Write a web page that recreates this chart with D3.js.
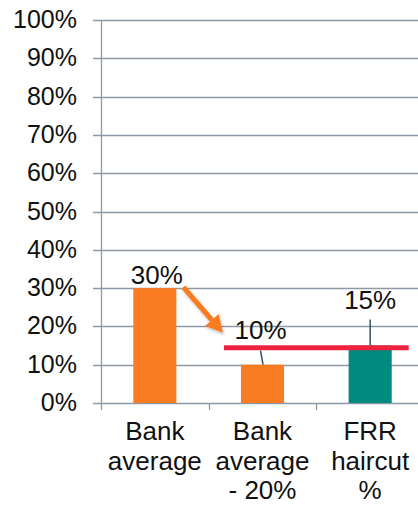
<!DOCTYPE html>
<html>
<head>
<meta charset="utf-8">
<script src="https://cdn.jsdelivr.net/npm/d3@7"></script>
<style>
  body { margin: 0; background: #fff; }
  text { font-family: "Liberation Sans", Arial, sans-serif; fill: #111; }
</style>
</head>
<body>
<div id="chart"></div>
<script>
// data
var categories = [["Bank", "average"], ["Bank", "average", "- 20%"], ["FRR", "haircut", "%"]];
var values = [0.30, 0.10, 0.15];
var barColors = ["#f97b22", "#f97b22", "#008b80"];
var valueLabels = ["30%", "10%", "15%"];
var yTicks = [0, 0.1, 0.2, 0.3, 0.4, 0.5, 0.6, 0.7, 0.8, 0.9, 1.0];
var thresholdValue = 0.144;

var width = 418, height = 506;
var margin = {left: 101, top: 20, right: -6, bottom: 103};

var svg = d3.select("#chart")
  .append("svg")
    .attr("width", width)
    .attr("height", height);

var x = d3.scaleBand()
  .domain(d3.range(categories.length))
  .range([margin.left, width - margin.right])
  .paddingInner(0.6)
  .paddingOuter(0.3);

var y = d3.scaleLinear()
  .domain([0, 1])
  .range([height - margin.bottom, margin.top]);

var gridColor = "#8e99a8";

// gridlines
svg.append("g")
  .selectAll("line")
  .data(yTicks)
  .enter().append("line")
    .attr("x1", margin.left - 8)
    .attr("x2", width - margin.right)
    .attr("y1", function(d) { return Math.round(y(d)) + 0.5; })
    .attr("y2", function(d) { return Math.round(y(d)) + 0.5; })
    .attr("stroke", gridColor)
    .attr("stroke-width", 1.3);

// y tick labels
svg.append("g")
  .selectAll("text")
  .data(yTicks)
  .enter().append("text")
    .attr("x", margin.left - 24)
    .attr("y", function(d) { return y(d) + 8; })
    .attr("text-anchor", "end")
    .style("font-size", "25px")
    .text(function(d) { return Math.round(d * 100) + "%"; });

// y axis line
svg.append("line")
  .attr("x1", margin.left + 0.5).attr("x2", margin.left + 0.5)
  .attr("y1", y(1)).attr("y2", y(0) + 7)
  .attr("stroke", gridColor).attr("stroke-width", 1.3);

// x ticks between categories
svg.append("g")
  .selectAll("line")
  .data([1, 2])
  .enter().append("line")
    .attr("x1", function(d) { return Math.round(x(d) - x.step() * x.paddingInner() / 2) + 0.5; })
    .attr("x2", function(d) { return Math.round(x(d) - x.step() * x.paddingInner() / 2) + 0.5; })
    .attr("y1", y(0))
    .attr("y2", y(0) + 7)
    .attr("stroke", gridColor).attr("stroke-width", 1.3);

// bars
svg.append("g")
  .selectAll("rect")
  .data(values)
  .enter().append("rect")
    .attr("x", function(d, i) { return x(i); })
    .attr("y", function(d) { return y(d); })
    .attr("width", x.bandwidth())
    .attr("height", function(d) { return y(0) - y(d); })
    .attr("fill", function(d, i) { return barColors[i]; });

// threshold line
svg.append("line")
  .attr("x1", x(1) - 17)
  .attr("x2", x(2) + x.bandwidth() + 17)
  .attr("y1", y(thresholdValue))
  .attr("y2", y(thresholdValue))
  .attr("stroke", "#f0233f")
  .attr("stroke-width", 5);

// leader lines
var leaderColor = "#34506e";
svg.append("line")
  .attr("x1", x(1) + x.bandwidth() / 2 - 2).attr("y1", y(values[1]) - 14)
  .attr("x2", x(1) + x.bandwidth() / 2 + 0.5).attr("y2", y(values[1]))
  .attr("stroke", leaderColor).attr("stroke-width", 1.5);
svg.append("line")
  .attr("x1", x(2) + x.bandwidth() / 2).attr("y1", y(values[2]) - 26)
  .attr("x2", x(2) + x.bandwidth() / 2).attr("y2", y(values[2]))
  .attr("stroke", leaderColor).attr("stroke-width", 1.5);

// value labels
var labelDx = [2, -2, 0];
var labelDy = [-4, -26, -37];
svg.append("g")
  .selectAll("text")
  .data(values)
  .enter().append("text")
    .attr("x", function(d, i) { return x(i) + x.bandwidth() / 2 + labelDx[i]; })
    .attr("y", function(d, i) { return y(d) + labelDy[i]; })
    .attr("text-anchor", "middle")
    .style("font-size", "26px")
    .text(function(d, i) { return valueLabels[i]; });

// arrow
var defs = svg.append("defs");
defs.append("filter").attr("id", "shadow")
  .append("feDropShadow")
    .attr("dx", 1).attr("dy", 2).attr("stdDeviation", 1.5)
    .attr("flood-color", "#000").attr("flood-opacity", 0.25);

var ax0 = x(0) + x.bandwidth() + 7, ay0 = y(values[0]) - 1;
var ax1 = x(1) - 18, ay1 = y(thresholdValue) - 15;
var ang = Math.atan2(ay1 - ay0, ax1 - ax0);
var headLen = 17, headW = 9;
var bx = ax1 - headLen * Math.cos(ang), by = ay1 - headLen * Math.sin(ang);
var px = -Math.sin(ang), py = Math.cos(ang);
var arrow = svg.append("g").attr("filter", "url(#shadow)");
arrow.append("line")
  .attr("x1", ax0).attr("y1", ay0)
  .attr("x2", bx).attr("y2", by)
  .attr("stroke", "#f97b22").attr("stroke-width", 5);
arrow.append("polygon")
  .attr("points", [[ax1, ay1], [bx + px * headW, by + py * headW], [bx - px * headW, by - py * headW]].join(" "))
  .attr("fill", "#f97b22");

// category labels
svg.append("g")
  .selectAll("text")
  .data(categories)
  .enter().append("text")
    .attr("text-anchor", "middle")
    .style("font-size", "26px")
    .attr("x", function(d, i) { return x(i) + x.bandwidth() / 2; })
    .attr("y", 440)
    .each(function(lines) {
      var t = d3.select(this);
      lines.forEach(function(l, j) {
        t.append("tspan")
          .attr("x", t.attr("x"))
          .attr("dy", j === 0 ? 0 : 29.5)
          .text(l);
      });
    });
</script>
</body>
</html>
